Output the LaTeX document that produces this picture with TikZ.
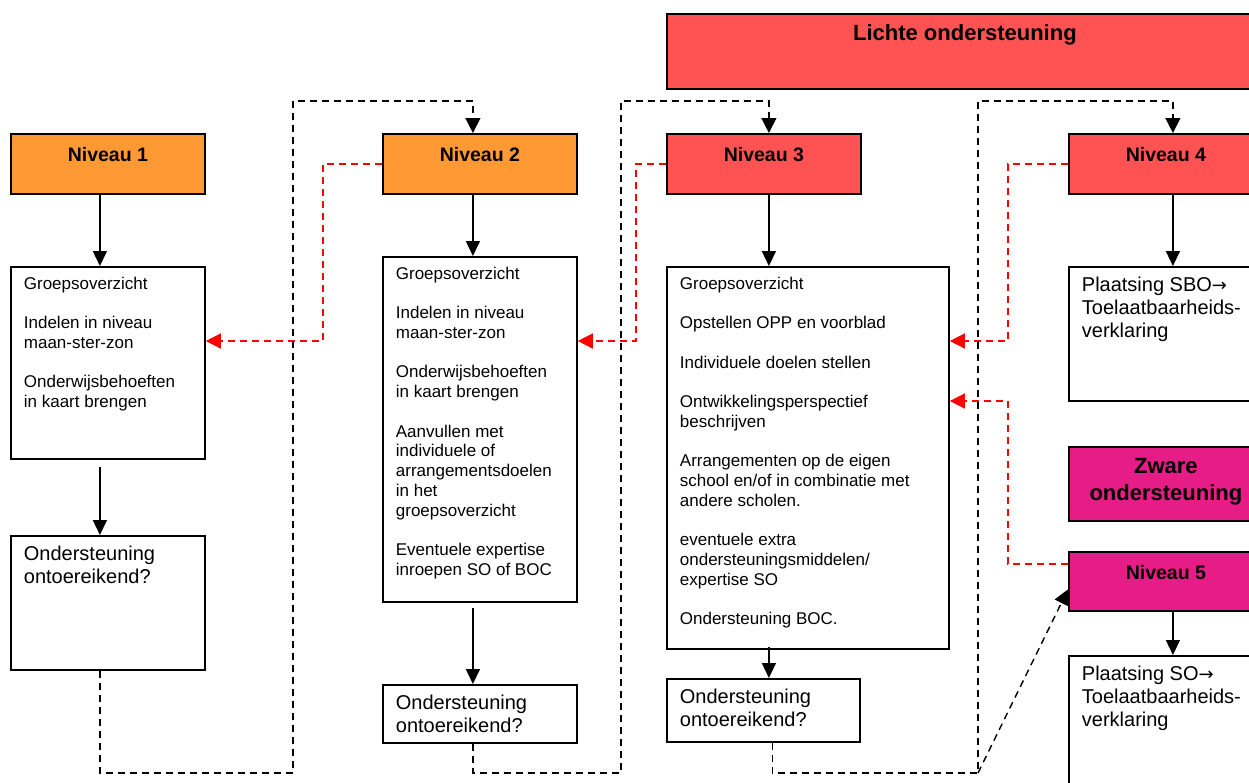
\documentclass[tikz,border=0pt]{standalone}
\usepackage{fontspec}
\setmainfont{Liberation Sans}
\newfontfamily\pijlfont{DejaVu Sans}
\usetikzlibrary{arrows.meta}

\definecolor{oranje}{RGB}{255,153,51}
\definecolor{rood}{RGB}{255,82,82}
\definecolor{roze}{RGB}{230,28,135}

% vak met tekst bovenaan: breedte, hoogte, inhoud
\newcommand{\vak}[3]{\parbox[t][#2][t]{#1}{\setlength{\parskip}{\baselineskip}\raggedright #3}}
\newcommand{\kopvak}[3]{\parbox[t][#2][t]{#1}{\centering #3}}
\newcommand{\naar}{{\pijlfont\fontsize{18}{23}\selectfont →}}

\tikzset{
  kop/.style={draw, line width=1.8pt, anchor=north west, inner xsep=0pt, inner ysep=13pt,
    font=\fontsize{19.5}{24}\selectfont\bfseries},
  tekstvak/.style={draw, fill=white, line width=1.8pt, anchor=north west, inner xsep=13pt, inner ysep=10pt,
    font=\fontsize{17}{19.75}\selectfont},
  grootvak/.style={tekstvak, font=\fontsize{20}{23}\selectfont},
  pijl/.style={line width=1.5pt, -{Triangle[length=15pt,width=14pt]}},
  lus/.style={line width=1.4pt, dash pattern=on 7pt off 5pt, -{Triangle[length=15pt,width=15pt]}},
  terug/.style={red, line width=1.4pt, dash pattern=on 7pt off 5pt, -{Triangle[length=15pt,width=15pt]}}
}

\begin{document}
\begin{tikzpicture}[x=1pt,y=-1pt]
  \useasboundingbox (0,0) rectangle (1249,782);
  \clip (0,0) rectangle (1249,782);

  % kopjes
  \node[kop, fill=rood, inner ysep=11pt, font=\fontsize{22}{26}\selectfont\bfseries] (licht) at (666,13)
    {\kopvak{596pt}{53pt}{Lichte ondersteuning}};
  \foreach \x/\i/\kleur in {10/1/oranje,382/2/oranje,666/3/rood,1068/4/rood} {
    \node[kop, fill=\kleur] (n\i) at (\x,133) {\kopvak{194pt}{34pt}{Niveau \i}};
  }
  \node[kop, fill=roze, inner ysep=11pt, font=\fontsize{22}{27}\selectfont\bfseries] (zw) at (1068,446)
    {\kopvak{194pt}{52pt}{Zware\\ondersteuning}};
  \node[kop, fill=roze] (n5) at (1068,551) {\kopvak{194pt}{33pt}{Niveau 5}};

  % tekstvakken
  \node[tekstvak] (g1) at (10,266) {\vak{168pt}{172pt}{Groepsoverzicht\par
    Indelen in niveau\\maan-ster-zon\par
    Onderwijsbehoeften\\in kaart brengen}};
  \node[tekstvak] (g2) at (382,256) {\vak{168pt}{325pt}{Groepsoverzicht\par
    Indelen in niveau\\maan-ster-zon\par
    Onderwijsbehoeften\\in kaart brengen\par
    Aanvullen met\\individuele of\\arrangementsdoelen\\in het\\groepsoverzicht\par
    Eventuele expertise\\inroepen SO of BOC}};
  \node[tekstvak] (g3) at (666,266) {\vak{256pt}{362pt}{Groepsoverzicht\par
    Opstellen OPP en voorblad\par
    Individuele doelen stellen\par
    Ontwikkelingsperspectief\\beschrijven\par
    Arrangementen op de eigen\\school en/of in combinatie met\\andere scholen.\par
    eventuele extra\\ondersteuningsmiddelen/\\expertise SO\par
    Ondersteuning BOC.}};
  \node[grootvak] (o1) at (10,535) {\vak{168pt}{114pt}{Ondersteuning\\ontoereikend?}};
  \node[grootvak] (o2) at (382,684) {\vak{168pt}{38pt}{Ondersteuning\\ontoereikend?}};
  \node[grootvak] (o3) at (666,678) {\vak{167pt}{43pt}{Ondersteuning\\ontoereikend?}};
  \node[grootvak] (g4) at (1068,266) {\vak{168pt}{114pt}{Plaatsing SBO\naar\\Toelaatbaarheids-\\verklaring}};
  \node[grootvak] (g5) at (1068,655) {\vak{168pt}{125pt}{Plaatsing SO\naar\\Toelaatbaarheids-\\verklaring}};

  % pijlen omlaag
  \coordinate (a3) at ([xshift=5pt]n3.south);
  \draw[pijl] ([xshift=-8pt]n1.south) -- ([xshift=-8pt]g1.north);
  \draw[pijl, shorten <=7pt] ([xshift=-8pt]g1.south) -- ([xshift=-8pt]o1.north);
  \draw[pijl] ([xshift=-7pt]n2.south) -- ([xshift=-7pt]g2.north);
  \draw[pijl, shorten <=5pt] ([xshift=-7pt]g2.south) -- ([xshift=-7pt]o2.north);
  \draw[pijl] (a3) -- (a3 |- g3.north);
  \draw[pijl, shorten <=-3pt] (a3 |- g3.south) -- (a3 |- o3.north);
  \draw[pijl] ([xshift=7pt]n4.south) -- ([xshift=7pt]g4.north);
  \draw[pijl] ([xshift=7pt]n5.south) -- ([xshift=7pt]g5.north);

  % door naar het volgende niveau
  \coordinate (j) at (978,773);
  \draw[lus] ([xshift=-8pt]o1.south) |- (293,773) -- (293,101) -| ([xshift=-7pt]n2.north);
  \draw[lus] ([xshift=-7pt]o2.south) |- (621,773) -- (621,101) -| ([xshift=5pt]n3.north);
  \draw[lus] ([xshift=9pt]o3.south) |- (j) -- (978,101) -| ([xshift=7pt]n4.north);
  \draw[lus] (j) -- ([yshift=-8pt]n5.west);

  % terug naar het vorige niveau
  \coordinate (r1) at (323,341);
  \coordinate (r2) at (636,341);
  \coordinate (r3) at (1008,341);
  \coordinate (r4) at (1008,401);
  \coordinate (r5) at (1008,564);
  \draw[terug] (n2.west) -| (r1) -- (r1 -| g1.east);
  \draw[terug] (n3.west) -| (r2) -- (r2 -| g2.east);
  \draw[terug] (n4.west) -| (r3) -- (r3 -| g3.east);
  \draw[terug] (r5 -| n5.west) -- (r5) -- (r4) -- (r4 -| g3.east);
\end{tikzpicture}
\end{document}
